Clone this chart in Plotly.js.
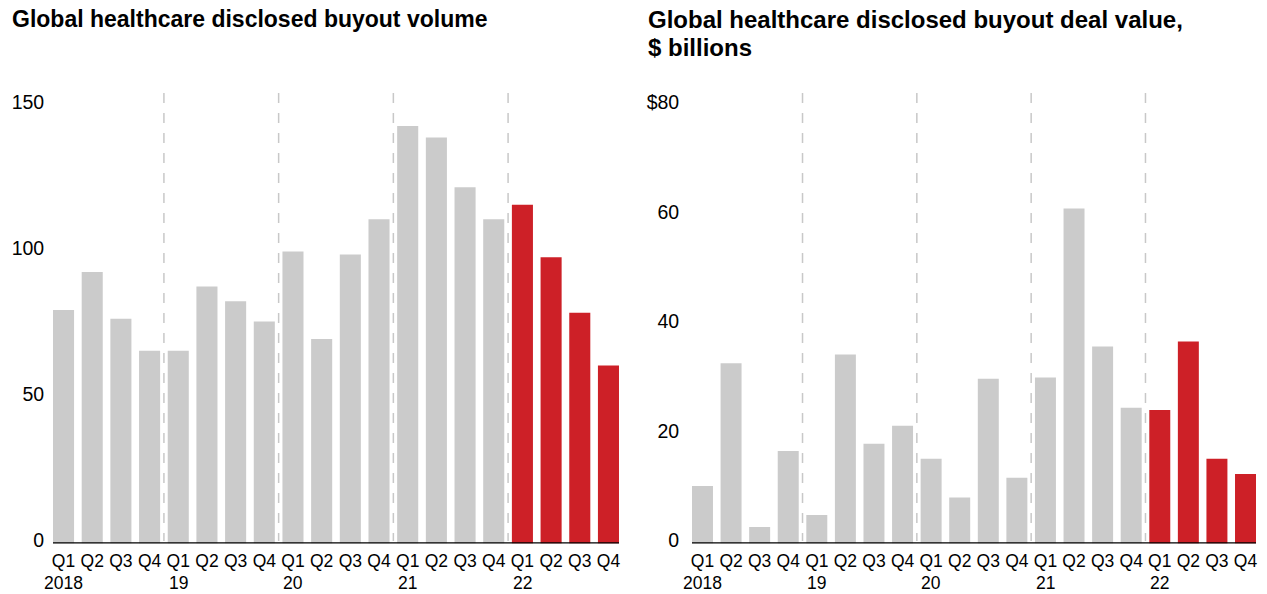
<!DOCTYPE html>
<html>
<head>
<meta charset="utf-8">
<script src="https://cdn.plot.ly/plotly-3.0.1.min.js"></script>
<style>
html,body{margin:0;padding:0;background:#fff;}
#chart{width:1267px;height:594px;}
</style>
</head>
<body>
<div id="chart"></div>
<script>
// ---- data ----
const years = ["2018", "19", "20", "21", "22"];
const quarters = ["Q1", "Q2", "Q3", "Q4"];
const buyoutVolume = [80, 93, 77, 66, 66, 88, 83, 76, 100, 70, 99, 111, 143, 139, 122, 111, 116, 98, 79, 61];
const dealValueBn = [10.5, 32.9, 3.0, 16.9, 5.2, 34.5, 18.2, 21.5, 15.5, 8.4, 30.1, 12.0, 30.3, 61.2, 36.0, 24.8, 24.4, 36.9, 15.5, 12.7];
const highlightYear = "22";
const volumeTicks = [0, 50, 100, 150];
const valueTicks = [0, 20, 40, 60, 80];
const valueTickText = ["0", "20", "40", "60", "$80"];
const titleLeft = "Global healthcare disclosed buyout volume";
const titleRight1 = "Global healthcare disclosed buyout deal value,";
const titleRight2 = "$ billions";

// ---- build categories ----
const cats = [], tickText = [], barColors = [];
years.forEach(y => quarters.forEach(q => {
  cats.push(y + " " + q);
  tickText.push(q);
  barColors.push(y === highlightYear ? "#cd2027" : "#cbcbcb");
}));

const FONT = "Liberation Sans, Arial, Helvetica, sans-serif";
const W = 1267, H = 594;
const bargap = 0.266;

const traces = [
  {type: "bar", x: cats, y: buyoutVolume, marker: {color: barColors}, xaxis: "x", yaxis: "y", hoverinfo: "x+y"},
  {type: "bar", x: cats, y: dealValueBn, marker: {color: barColors}, xaxis: "x2", yaxis: "y2", hoverinfo: "x+y"}
];

const yDom = [0.085, 0.8224];
function xAxis(domain, anchor) {
  return {domain: domain, anchor: anchor, type: "category", range: [-0.5, cats.length - 0.5], autorange: false,
    tickmode: "array", tickvals: cats, ticktext: tickText,
    tickangle: 0, ticks: "", showgrid: false, zeroline: false, showline: false, fixedrange: true,
    tickfont: {family: FONT, size: 17.5, color: "#000"}, ticklabelstandoff: 5};
}
function yAxis(range, vals, text, anchor, standoff) {
  return {domain: yDom, anchor: anchor, range: range, autorange: false, tickmode: "array", tickvals: vals, ticktext: text,
    ticks: "", showgrid: false, zeroline: false, showline: false, fixedrange: true,
    tickfont: {family: FONT, size: 19.5, color: "#000"}, ticklabelshift: -3, ticklabelstandoff: standoff};
}

const shapes = [];
const annotations = [];
["x", "x2"].forEach((xr, k) => {
  for (let i = 1; i < years.length; i++) {
    shapes.push({type: "line", xref: xr, yref: "paper", x0: i * 4 - 0.5, x1: i * 4 - 0.5,
      y0: (H - 93) / H, y1: (H - 541) / H, layer: "below",
      line: {color: "#c8c8c8", width: 1.5, dash: "10px,10px"}});
  }
  shapes.push({type: "line", xref: xr, yref: k === 0 ? "y" : "y2",
    x0: -0.5 + bargap / 2, x1: cats.length - 0.5 - bargap / 2, y0: 0, y1: 0,
    line: {color: "#000", width: 2.6}});
  years.forEach((y, i) => {
    annotations.push({text: y, xref: xr, yref: "paper", x: cats[i * 4], y: 1 - 583 / H,
      xanchor: "center", yanchor: "middle", showarrow: false,
      font: {family: FONT, size: 17.5, color: "#000"}});
  });
});

annotations.push(
  {text: "<b>" + titleLeft + "</b>", xref: "paper", yref: "paper", x: 10 / W, y: 1 - 19 / H,
    xanchor: "left", yanchor: "middle", showarrow: false, font: {family: FONT, size: 23, color: "#000"}},
  {text: "<b>" + titleRight1 + "</b>", xref: "paper", yref: "paper", x: 646 / W, y: 1 - 19 / H,
    xanchor: "left", yanchor: "middle", showarrow: false, font: {family: FONT, size: 24, color: "#000"}},
  {text: "<b>" + titleRight2 + "</b>", xref: "paper", yref: "paper", x: 646 / W, y: 1 - 47 / H,
    xanchor: "left", yanchor: "middle", showarrow: false, font: {family: FONT, size: 24, color: "#000"}}
);

const layout = {
  width: W, height: H,
  margin: {l: 0, r: 0, t: 0, b: 0},
  paper_bgcolor: "#fff", plot_bgcolor: "#fff",
  showlegend: false, bargap: bargap,
  font: {family: FONT, color: "#000", size: 17},
  xaxis: xAxis([49.2 / W, 622.8 / W], "y"),
  yaxis: yAxis([0, 150], volumeTicks, volumeTicks.map(String), "x", 4),
  xaxis2: xAxis([688.2 / W, 1259.8 / W], "y2"),
  yaxis2: yAxis([0, 80], valueTicks, valueTickText, "x2", 8),
  shapes: shapes,
  annotations: annotations
};

Plotly.newPlot("chart", traces, layout, {displayModeBar: false, staticPlot: true});
</script>
</body>
</html>
